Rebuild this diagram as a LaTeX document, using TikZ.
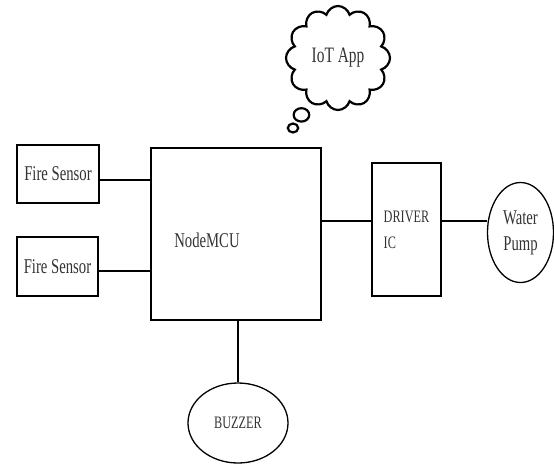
\documentclass[tikz,border=0pt]{standalone}
\usepackage{fontspec}
\setmainfont[FakeStretch=0.7]{Liberation Serif}
\usetikzlibrary{shapes.geometric,shapes.callouts}

\tikzset{
  blk/.style={draw, line width=1.6pt, inner sep=0pt},
  oval/.style={draw, ellipse, line width=1.3pt, inner sep=0pt, align=center},
  wire/.style={line width=1.6pt},
  txt/.style={font=\fontsize{21}{26}\selectfont, text=black!80},
  smalltxt/.style={font=\fontsize{17.5}{26}\selectfont, text=black!80}
}

\begin{document}
\begin{tikzpicture}[x=1pt,y=-1pt]
\useasboundingbox (0,0) rectangle (554,466);

\node[cloud callout, draw, line width=2.2pt, cloud puffs=12, aspect=1,
  minimum width=104pt, minimum height=104pt, inner sep=0pt,
  callout absolute pointer={(293,128)}, txt, font=\fontsize{22}{26}\selectfont] (app) at (338,58) {IoT App};

\node[blk, minimum width=82pt, minimum height=58pt, txt] (fire1) at (58,174) {Fire Sensor};
\node[blk, minimum width=81pt, minimum height=59pt, txt] (fire2) at (57.5,266.5) {Fire Sensor};

\node[blk, minimum width=170pt, minimum height=172pt] (mcu) at (236,234) {};
\node[txt] (mcutext) at (207,240) {NodeMCU};

\node[blk, minimum width=69pt, minimum height=133pt, smalltxt, align=left] (drv) at (406.5,229.5) {DRIVER\\IC};

\node[oval, minimum width=66pt, minimum height=100pt, txt] (pump) at (520.5,232.5) {Water\\Pump};
\node[oval, minimum width=100pt, minimum height=80pt, smalltxt] (buzzer) at (238,423) {BUZZER};

\draw[wire] ([yshift=-6pt]fire1.east) -- ([yshift=-6pt]fire1.east -| mcu.west);
\draw[wire] ([yshift=-4.5pt]fire2.east) -- ([yshift=-4.5pt]fire2.east -| mcu.west);
\draw[wire] ([yshift=8.5pt]drv.west -| mcu.east) -- ([yshift=8.5pt]drv.west);
\draw[wire] ([yshift=8.5pt]drv.east) -- ([yshift=8.5pt]drv.east -| pump.west);
\draw[wire] (buzzer.north |- mcu.south) -- (buzzer.north);
\end{tikzpicture}
\end{document}
